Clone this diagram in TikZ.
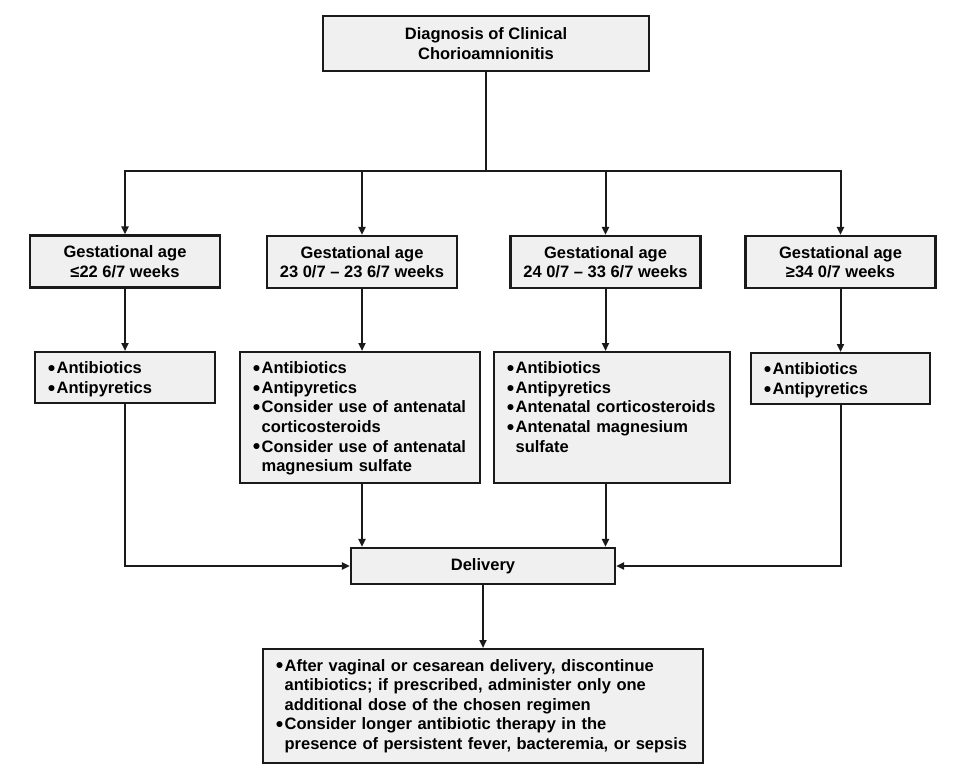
\documentclass[tikz,border=0pt]{standalone}
\usepackage{fontspec}
\setmainfont{Liberation Sans}
\usepackage{xcolor}
\usepackage{tikz}
\usetikzlibrary{arrows.meta,positioning,calc}
\definecolor{caLine}{HTML}{1A1A1A}
\definecolor{caFill}{HTML}{F0F0F0}
\newcommand{\bul}[1]{\makebox[8.5pt][l]{\hspace*{-0.8pt}\raisebox{1.2pt}{\fontsize{14}{14}\selectfont ●}}\mbox{#1}}
\newcommand{\cont}[1]{\hspace*{8.5pt}\mbox{#1}}

\begin{document}
\begin{tikzpicture}[x=1pt,y=-1pt,
  ph/.style={draw=caLine,line width=2.2pt,fill=caFill,inner sep=0pt,
    font=\fontsize{16.5}{19.6}\selectfont\bfseries},
  gab/.style={ph,align=center,minimum width=190pt,minimum height=52pt},
  lst/.style={ph,anchor=north west,align=left,inner xsep=13pt,inner ysep=9.5pt,text height=12pt},
  ln/.style={draw=caLine,line width=2pt},
  ar/.style={ln,-{Triangle[length=8pt,width=7pt]}}
]
\useasboundingbox (0,0) rectangle (960,783);
\node[ph,align=center,minimum width=326pt,minimum height=55pt] (diag) at (486,43.5)
  {Diagnosis of Clinical\\Chorioamnionitis};
\coordinate (split) at (486,171);
\node[gab] (g1) at (125,261.5) {Gestational age\\≤22 6/7 weeks};
\node[gab] (g2) at (362,262) {Gestational age\\23 0/7 – 23 6/7 weeks};
\node[gab] (g3) at (605.5,262) {Gestational age\\24 0/7 – 33 6/7 weeks};
\node[gab] (g4) at (840.5,262) {Gestational age\\≥34 0/7 weeks};
\node[lst,text width=154pt,text depth=20pt] (t1) at (34,351)
  {\bul{Antibiotics}\\\bul{Antipyretics}};
\node[lst,text width=214pt,text depth=100pt] (t2) at (239,351)
  {\bul{Antibiotics}\\\bul{Antipyretics}\\\bul{Consider use of antenatal}\\\cont{corticosteroids}\\
   \bul{Consider use of antenatal}\\\cont{magnesium sulfate}};
\node[lst,text width=210pt,text depth=100pt] (t3) at (493,351)
  {\bul{Antibiotics}\\\bul{Antipyretics}\\\bul{Antenatal corticosteroids}\\
   \bul{Antenatal magnesium}\\\cont{sulfate}};
\node[lst,text width=153pt,text depth=20pt] (t4) at (750,352)
  {\bul{Antibiotics}\\\bul{Antipyretics}};
\node[ph,minimum width=264pt,minimum height=36pt] (del) at (483,566) {Delivery};
\node[lst,inner ysep=10pt,text width=414pt,text depth=82pt] (post) at (262,648)
  {\bul{After vaginal or cesarean delivery, discontinue}\\
   \cont{antibiotics; if prescribed, administer only one}\\
   \cont{additional dose of the chosen regimen}\\
   \bul{Consider longer antibiotic therapy in the}\\
   \cont{presence of persistent fever, bacteremia, or sepsis}};
% connectors
\draw[ln] (diag) -- (split);
\foreach \g in {g1,g2,g3,g4} \draw[ar] (split) -| (\g.north);
\foreach \a/\b in {g1/t1,g2/t2,g3/t3,g4/t4} \draw[ar] (\a.south) -- (\a.south |- \b.north);
\draw[ar] (t1.south) |- (del.west);
\draw[ar] (t4.south) |- (del.east);
\draw[ar] (g2.south |- t2.south) -- (g2.south |- del.north);
\draw[ar] (g3.south |- t3.south) -- (g3.south |- del.north);
\draw[ar] (del.south) -- (del.south |- post.north);
\end{tikzpicture}
\end{document}
